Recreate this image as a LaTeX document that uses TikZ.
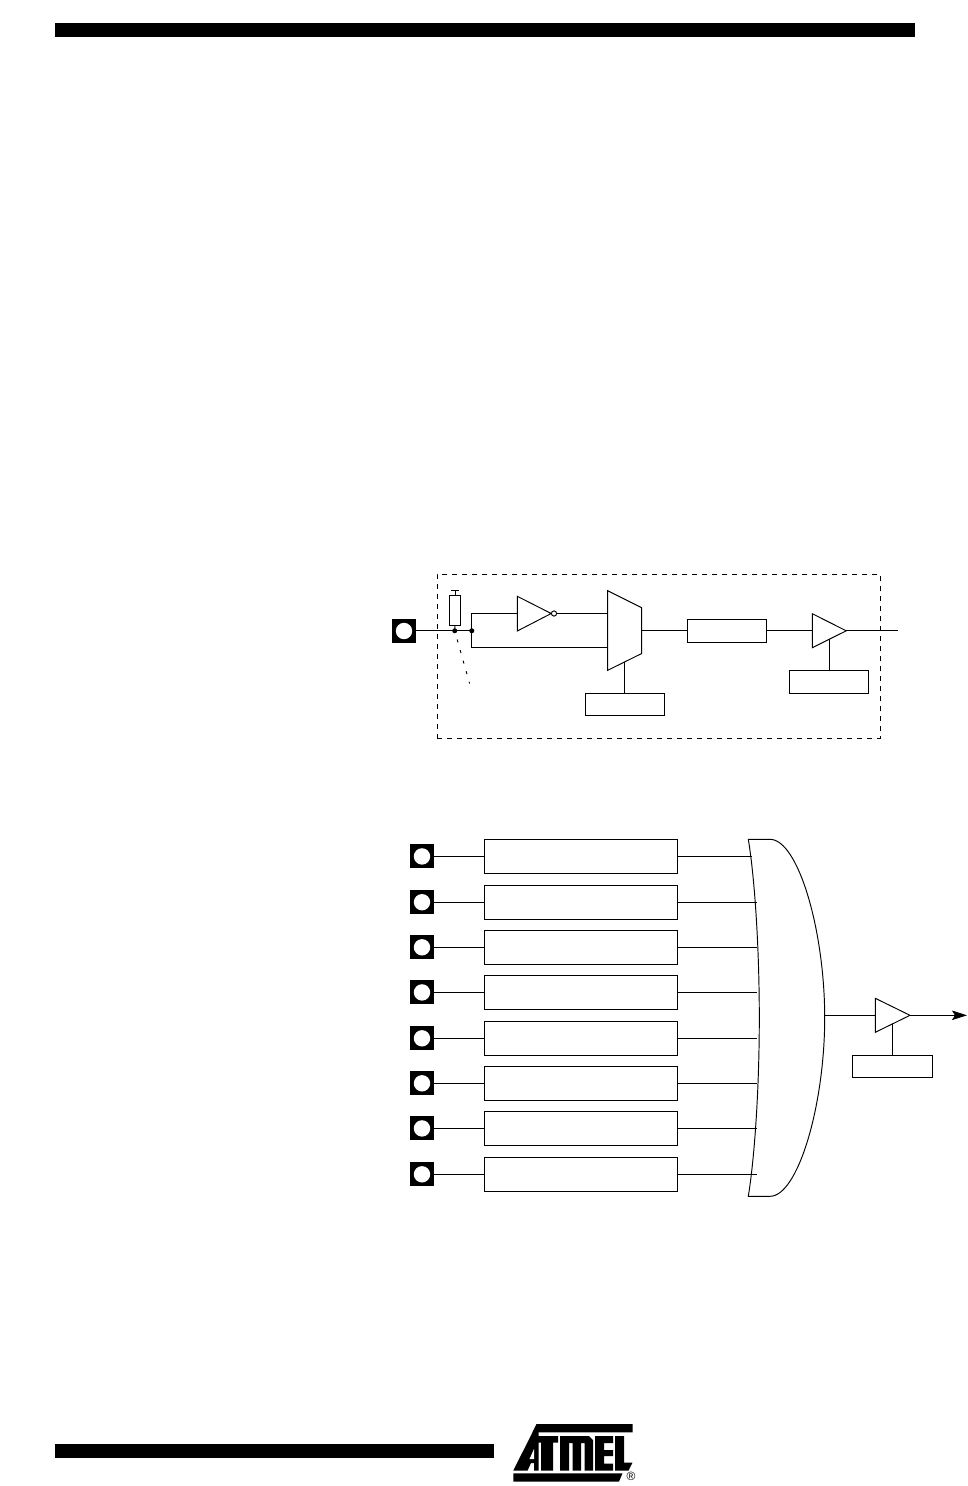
\documentclass[tikz,border=0pt]{standalone}
\usepackage{fontspec}
\setmainfont{Liberation Sans}
\usetikzlibrary{arrows.meta}
\tikzset{
  wire/.style={line width=0.95pt,line cap=butt},
  blk/.style={draw,line width=0.95pt,fill=white,rectangle,inner sep=0pt,minimum width=#1},
  blk/.default=79.4pt,
  padsq/.style={fill=black,rectangle,minimum width=24pt,minimum height=24pt,inner sep=0pt},
  padhole/.style={fill=white,circle,minimum size=16.4pt,inner sep=0pt},
  gate/.style={draw,line width=0.95pt,fill=white,line join=miter},
  joint/.style={fill=black,circle,minimum size=5pt,inner sep=0pt},
  bubble/.style={draw,fill=white,circle,line width=0.95pt,minimum size=5.2pt,inner sep=0pt},
  bar/.style={fill=black,rectangle,inner sep=0pt}
}
\begin{document}
\begin{tikzpicture}[x=1pt,y=-1pt]
\useasboundingbox (0,0) rectangle (968,1486);
\fill[white] (0,0) rectangle (968,1486);
% page bars
\node[bar,minimum width=860pt,minimum height=14pt] (topbar) at (485,30) {};
\node[bar,minimum width=439pt,minimum height=14pt] (botbar) at (274.5,1451) {};
% upper: dashed frame
\node[draw,dash pattern=on 5pt off 5pt,line width=0.95pt,rectangle,minimum width=443pt,minimum height=164pt,inner sep=0pt] (frame) at (658.8,656.3) {};
% pad and input
\node[padsq] (pad) at (404,631) {};
\node[padhole] (hole) at (404,631) {};
\coordinate (j1) at (454.7,630.8);
\coordinate (j2) at (471.8,630.8);
\draw[wire] (pad.east |- j1) -- (j2);
\node[blk=11pt,minimum height=29.5pt] (res) at (455,610.7) {};
\coordinate (rtop) at (455,590.3);
\draw[wire] (res.north) -- (rtop);
\draw[wire] (451.2,590.3) -- (458.8,590.3);
\draw[wire] (res.south) -- (j1);
\node[joint] (d1) at (j1) {};
\node[joint] (d2) at (j2) {};
\coordinate (rdash) at (469.6,683.5);
\draw[dash pattern=on 3pt off 8pt,dash phase=2pt,line width=0.95pt] (d1.center) -- (rdash);
% inverter
\coordinate (ia) at (517.3,596.3);
\coordinate (ib) at (517.3,631);
\coordinate (ic) at (551.2,613.5);
\coordinate (iin) at (517.3,613.5);
\draw[gate] (ia) -- (ic) -- (ib) -- cycle;
\node[bubble] (bub) at (554,613.5) {};
\draw[wire] (d2.center) -- (d2.center |- iin) -- (iin);
% mux
\coordinate (ma) at (607.7,590.7);
\coordinate (mb) at (641.7,607.7);
\coordinate (mc) at (641.7,653.5);
\coordinate (md) at (607.7,670.3);
\draw[gate] (ma) -- (mb) -- (mc) -- (md) -- cycle;
\draw[wire] (bub.east) -- (ma |- bub.east);
\coordinate (ml) at (607.7,647.3);
\draw[wire] (d2.center) -- (d2.center |- ml) -- (ml);
\coordinate (mo) at (641.7,630.8);
\node[blk,minimum height=23pt] (latch) at (727,630.8) {};
\draw[wire] (mo) -- (latch.west);
\node[blk,minimum height=22pt] (msel) at (624.8,704.3) {};
\coordinate (mbot) at (624.6,662);
\draw[wire] (mbot) -- (mbot |- msel.north);
% buffer
\coordinate (ba) at (812.3,613.7);
\coordinate (bb) at (812.3,647.7);
\coordinate (bc) at (846.2,630.8);
\draw[gate] (ba) -- (bc) -- (bb) -- cycle;
\draw[wire] (latch.east) -- (ba |- latch.east);
\coordinate (bout) at (898,630.8);
\draw[wire] (bc) -- (bout);
\node[blk,minimum height=23pt] (ben) at (829,681.8) {};
\coordinate (bbot) at (829.3,639.3);
\draw[wire] (bbot) -- (bbot |- ben.north);
% lower: or gate
\coordinate (gtl) at (748.3,839.3);
\coordinate (gtr) at (770,839.3);
\coordinate (gm) at (824.7,1017.8);
\coordinate (gbr) at (770,1196.3);
\coordinate (gbl) at (748.3,1196.3);
\coordinate (gi) at (759.3,1017.8);
\draw[gate] (gtl) -- (gtr) .. controls (798,839.3) and (824.7,930) .. (gm)
  .. controls (824.7,1105) and (798,1196.3) .. (gbr) -- (gbl)
  .. controls (755,1155) and (759.3,1085) .. (gi)
  .. controls (759.3,950) and (755,880) .. (gtl) -- cycle;
% rows
\foreach \i/\yy/\xe in {1/856.4/752.2,2/902.2/756.6,3/947.3/757,4/992.4/757,5/1038.3/757,6/1083.3/757,7/1128.4/757,8/1174.3/757}{
  \node[padsq] (p\i) at (422,\yy) {};
  \node[padhole] (h\i) at (422,\yy) {};
  \node[blk=193pt,minimum height=34pt] (b\i) at (580.8,\yy) {};
  \coordinate (in\i) at (\xe,\yy);
  \draw[wire] (p\i.east) -- (b\i.west);
  \draw[wire] (b\i.east) -- (in\i);
}
% output buffer
\coordinate (oa) at (875.3,998.3);
\coordinate (ob) at (875.3,1032.3);
\coordinate (oc) at (910,1015.3);
\draw[gate] (oa) -- (oc) -- (ob) -- cycle;
\coordinate (gout) at (824.5,1015.3);
\draw[wire] (gout) -- (oa |- gout);
\coordinate (oend) at (967,1015.3);
\draw[wire,-{Stealth[length=15pt,width=9.5pt,inset=3pt]}] (oc) -- (oend);
\node[blk=80.4pt,minimum height=22pt] (oen) at (892.5,1066.3) {};
\coordinate (obot) at (892.4,1024);
\draw[wire] (obot) -- (obot |- oen.north);
% logo
\fill[black]
  (536.7,1424) -- (632.7,1424) -- (632.7,1432.4) -- (532.4,1432.4) -- cycle;
\fill[black] % A
  (536.7,1424) -- (513.3,1470.5) -- (527.6,1470.5) -- (531,1463) -- (534,1463)
  -- (534,1470.5) -- (538.5,1470.5) -- (538.5,1432) -- cycle;
\fill[white] (534,1449) -- (534,1459) -- (529.5,1459) -- cycle;
\fill[black] % T
  (536,1436) -- (558,1436) -- (558,1442.5) -- (553,1442.5) -- (553,1470.5) -- (541,1470.5) -- (541,1442.5) -- (536,1442.5) -- cycle;
\fill[black] % M
  (560,1436) -- (589,1436) -- (593,1440) -- (593,1470.5) -- (584.5,1470.5) -- (584.5,1443) -- (581,1443)
  -- (581,1470.5) -- (572.5,1470.5) -- (572.5,1443) -- (569,1443) -- (569,1470.5) -- (560,1470.5) -- cycle;
\fill[black] % E
  (595,1436) -- (613,1436) -- (613,1443) -- (604,1443) -- (604,1450) -- (613,1450) -- (613,1456) -- (604,1456)
  -- (604,1463.5) -- (613,1463.5) -- (613,1470.5) -- (595,1470.5) -- cycle;
\fill[black] % L
  (615,1436) -- (624,1436) -- (624,1462.5) -- (632.5,1462.5) -- (628.5,1470.5) -- (615,1470.5) -- cycle;
\fill[black] % lower bar
  (513.3,1473.3) -- (622.5,1473.3) -- (619,1481.5) -- (513.3,1481.5) -- cycle;
\node[inner sep=0pt,font=\fontsize{12}{12}\selectfont] (reg) at (631,1476.5) {®};
\end{tikzpicture}
\end{document}
